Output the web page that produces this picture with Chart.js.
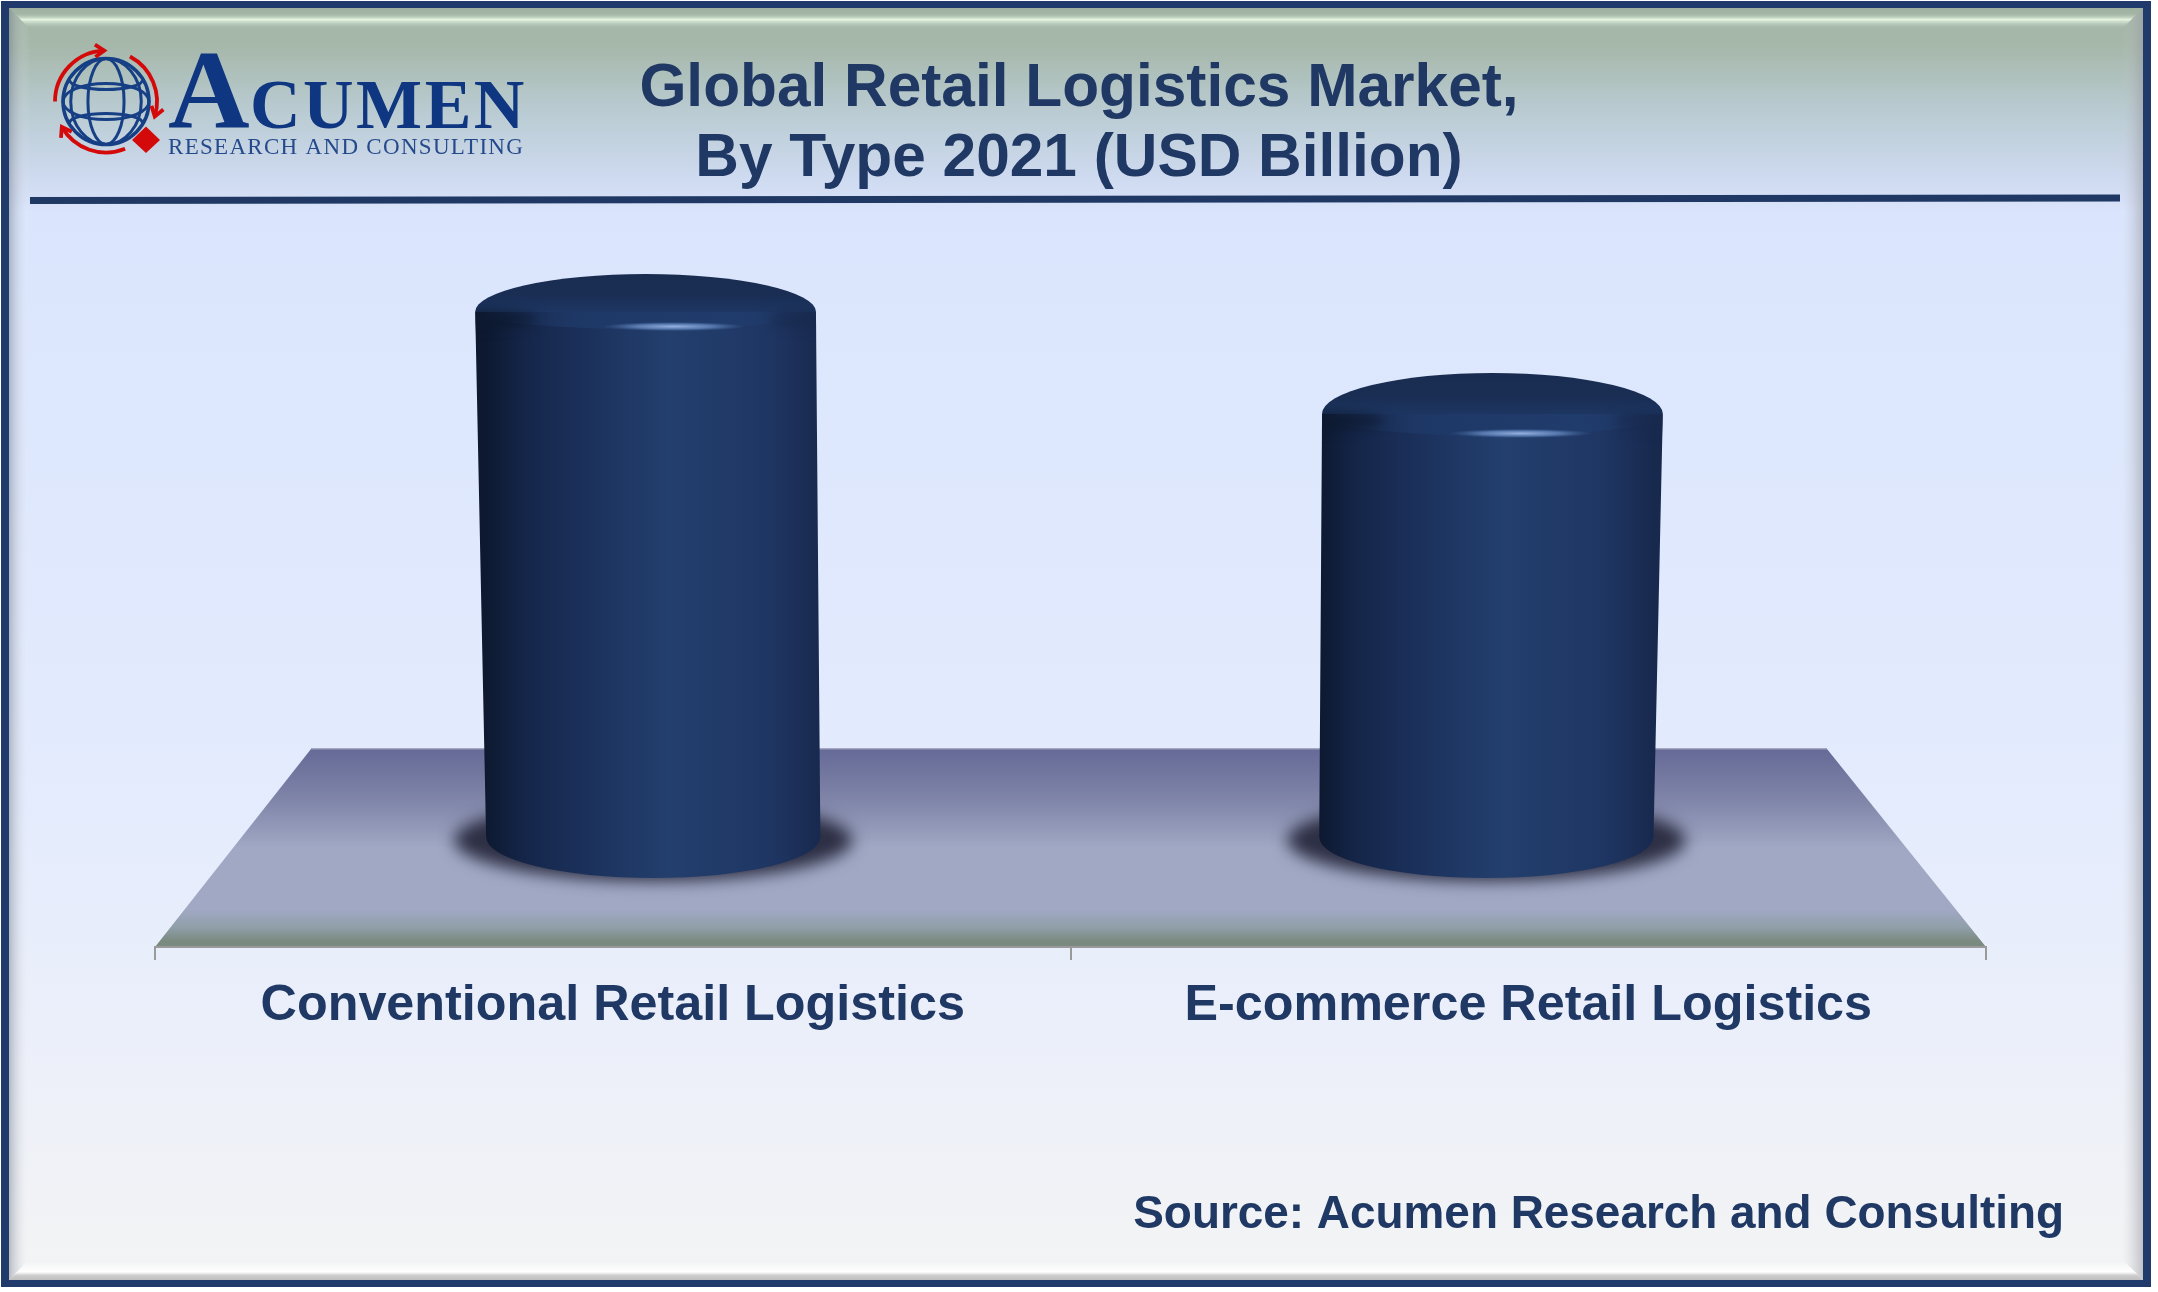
<!DOCTYPE html>
<html>
<head>
<meta charset="utf-8">
<title>Global Retail Logistics Market</title>
<style>
    html, body { margin: 0; padding: 0; background: #ffffff; }
    canvas { display: block; }
</style>
<script src="https://cdn.jsdelivr.net/npm/chart.js@4"></script>
</head>
<body>
<canvas id="marketChart" width="2158" height="1292"></canvas>
<script>
const categories = ['Conventional Retail Logistics', 'E-commerce Retail Logistics'];
const marketValues = [60.4, 50.5];
const titleLines = ['Global Retail Logistics Market,', 'By Type 2021 (USD Billion)'];
const sourceText = 'Source: Acumen Research and Consulting';

const NAVY = '#1f3864';
const SANS = '"Liberation Sans", Arial, sans-serif';
const SERIF = '"Liberation Serif", "Times New Roman", serif';

function drawFrame(ctx) {
    ctx.fillStyle = '#ffffff';
    ctx.fillRect(0, 0, 2158, 1292);

    // navy outer frame
    ctx.fillStyle = '#1f3a6b';
    ctx.fillRect(1, 1, 2150, 1286);

    // page gradient
    const bg = ctx.createLinearGradient(0, 8, 0, 1280);
    bg.addColorStop(0, '#a3b5a5');
    bg.addColorStop(0.03, '#a6b8aa');
    bg.addColorStop(0.08, '#b9cbd1');
    bg.addColorStop(0.13, '#cdd9ee');
    bg.addColorStop(0.15, '#d5e0f6');
    bg.addColorStop(0.16, '#dae5fd');
    bg.addColorStop(0.6, '#e3ebfd');
    bg.addColorStop(0.8, '#ebeffa');
    bg.addColorStop(1, '#f3f4f4');
    ctx.fillStyle = bg;
    ctx.fillRect(9, 8, 2134, 1272);

    // bevel, top band
    const top = ctx.createLinearGradient(0, 8, 0, 29);
    top.addColorStop(0, 'rgba(150,170,150,0.4)');
    top.addColorStop(0.25, 'rgba(160,180,160,0.2)');
    top.addColorStop(0.55, 'rgba(232,248,228,0.95)');
    top.addColorStop(1, 'rgba(170,190,175,0)');
    ctx.fillStyle = top;
    bevel(ctx, [[9, 8], [2143, 8], [2122, 29], [30, 29]]);

    // bevel, left band
    const left = ctx.createLinearGradient(9, 0, 30, 0);
    left.addColorStop(0, 'rgba(110,120,135,0.45)');
    left.addColorStop(1, 'rgba(255,255,255,0)');
    ctx.fillStyle = left;
    bevel(ctx, [[9, 8], [30, 29], [30, 1259], [9, 1280]]);

    // bevel, right band
    const right = ctx.createLinearGradient(2122, 0, 2143, 0);
    right.addColorStop(0, 'rgba(200,200,205,0)');
    right.addColorStop(1, 'rgba(150,152,160,0.55)');
    ctx.fillStyle = right;
    bevel(ctx, [[2143, 8], [2143, 1280], [2122, 1259], [2122, 29]]);

    // bevel, bottom band
    const bottom = ctx.createLinearGradient(0, 1262, 0, 1280);
    bottom.addColorStop(0, 'rgba(255,255,255,0)');
    bottom.addColorStop(0.55, 'rgba(255,255,255,1)');
    bottom.addColorStop(0.75, 'rgba(205,205,205,1)');
    bottom.addColorStop(1, 'rgba(190,190,190,1)');
    ctx.fillStyle = bottom;
    bevel(ctx, [[9, 1280], [27, 1262], [2125, 1262], [2143, 1280]]);

    // header rule, a touch off level like the original
    ctx.strokeStyle = NAVY;
    ctx.lineWidth = 7;
    ctx.beginPath();
    ctx.moveTo(30, 200.5);
    ctx.lineTo(2120, 198);
    ctx.stroke();
}

function bevel(ctx, pts) {
    ctx.beginPath();
    pts.forEach((p, i) => i ? ctx.lineTo(p[0], p[1]) : ctx.moveTo(p[0], p[1]));
    ctx.closePath();
    ctx.fill();
}

function drawLogo(ctx) {
    const cx = 106, cy = 101.5, r = 43;

    ctx.save();
    ctx.strokeStyle = '#163f85';
    ctx.lineWidth = 3.5;
    ctx.beginPath();
    ctx.arc(cx, cy, r, 0, Math.PI * 2);
    ctx.stroke();
    ctx.lineWidth = 3;
    [0.42, 0.82].forEach(k => {
        ctx.beginPath();
        ctx.ellipse(cx, cy, r * k, r, 0, 0, Math.PI * 2);
        ctx.stroke();
    });
    ctx.beginPath();
    ctx.ellipse(cx, cy, r, r * 0.42, 0, 0, Math.PI * 2);
    ctx.stroke();
    ctx.beginPath();
    ctx.ellipse(cx, cy - r * 0.5, r * 0.85, r * 0.22, 0, Math.PI, 0, true);
    ctx.stroke();
    ctx.beginPath();
    ctx.ellipse(cx, cy + r * 0.5, r * 0.85, r * 0.22, 0, Math.PI, 0);
    ctx.stroke();

    // red arrows round the globe
    ctx.strokeStyle = '#d40a0a';
    ctx.lineWidth = 3.8;
    const rad = d => d * Math.PI / 180;
    [[180, 268], [-62, 17], [68, 150]].forEach(([a, b]) => {
        ctx.beginPath();
        ctx.arc(cx, cy, 51, rad(a), rad(b));
        ctx.stroke();
    });
    [268, 17, 150].forEach(a => {
        const x = cx + 51 * Math.cos(rad(a));
        const y = cy + 51 * Math.sin(rad(a));
        const t = rad(a + 90);
        ctx.beginPath();
        ctx.moveTo(x - 11 * Math.cos(t - 0.6), y - 11 * Math.sin(t - 0.6));
        ctx.lineTo(x, y);
        ctx.lineTo(x - 11 * Math.cos(t + 0.6), y - 11 * Math.sin(t + 0.6));
        ctx.stroke();
    });

    ctx.fillStyle = '#d40a0a';
    bevel(ctx, [[146, 126.5], [160, 140], [146, 153], [132, 140]]);

    // wordmark
    ctx.fillStyle = '#0f3680';
    ctx.textBaseline = 'alphabetic';
    ctx.textAlign = 'left';
    ctx.font = 'bold 113px ' + SERIF;
    ctx.fillText('A', 168, 128);
    ctx.font = 'bold 70px ' + SERIF;
    ctx.letterSpacing = '2.5px';
    ctx.fillText('CUMEN', 250, 128);
    ctx.font = '23px ' + SERIF;
    ctx.letterSpacing = '1.3px';
    ctx.fillStyle = '#254a8c';
    ctx.fillText('RESEARCH AND CONSULTING', 168, 154);
    ctx.restore();
}

// floor the cylinders stand on, trapezoid up from the category axis
function drawFloor(ctx, area) {
    const top = area.bottom - 198;
    const grad = ctx.createLinearGradient(0, top, 0, area.bottom);
    grad.addColorStop(0, '#666a97');
    grad.addColorStop(0.25, '#7f84a8');
    grad.addColorStop(0.5, '#a0a8c4');
    grad.addColorStop(0.81, '#a0a8c4');
    grad.addColorStop(0.9, '#909fa9');
    grad.addColorStop(0.97, '#7b8a80');
    grad.addColorStop(1, '#7b8a80');
    ctx.fillStyle = grad;
    bevel(ctx, [[area.left + 156, top], [area.right - 159, top], [area.right, area.bottom], [area.left, area.bottom]]);
    ctx.strokeStyle = '#8e90b0';
    ctx.lineWidth = 1.5;
    ctx.beginPath();
    ctx.moveTo(area.left + 156, top);
    ctx.lineTo(area.right - 159, top);
    ctx.stroke();
}

function bodyStops(grad) {
    grad.addColorStop(0, '#0d1930');
    grad.addColorStop(0.12, '#15264a');
    grad.addColorStop(0.35, '#1d3460');
    grad.addColorStop(0.55, '#233f6d');
    grad.addColorStop(0.85, '#1f3663');
    grad.addColorStop(1, '#18294e');
}

function drawCylinder(ctx, bar, vanishX) {
    const baseX = vanishX + (bar.x - vanishX) * 0.91 - 0.7;
    const topX = vanishX + (bar.x - vanishX) * 0.925 - 1.5;
    const baseHalf = bar.width * 0.91 / 2 + 0.5;
    const topHalf = bar.width * 0.925 / 2 + 1;
    const baseRy = 41;
    const baseCy = bar.base - baseRy;
    // the lower cap shows a little more of its face
    const rearRy = 38 + (bar.y - 274) * 0.03;
    const lipRy = 17 + (bar.y - 274) * 0.05;
    const topCy = bar.y + rearRy;

    // soft contact shadow
    ctx.save();
    ctx.filter = 'blur(8px)';
    ctx.fillStyle = '#2d2f44';
    ctx.beginPath();
    ctx.ellipse(baseX, baseCy + 3, baseHalf + 32, 41, 0, 0, Math.PI * 2);
    ctx.fill();
    ctx.restore();

    // body
    const body = ctx.createLinearGradient(baseX - baseHalf, 0, baseX + baseHalf, 0);
    bodyStops(body);
    ctx.fillStyle = body;
    ctx.beginPath();
    ctx.moveTo(topX - topHalf, topCy);
    ctx.lineTo(baseX - baseHalf, baseCy);
    ctx.ellipse(baseX, baseCy, baseHalf, baseRy, 0, Math.PI, 0, true);
    ctx.lineTo(topX + topHalf, topCy);
    ctx.closePath();
    ctx.fill();

    // cap: rear dome
    const cap = ctx.createLinearGradient(0, bar.y, 0, topCy + lipRy);
    cap.addColorStop(0, '#192c50');
    cap.addColorStop(0.38, '#1a2e54');
    cap.addColorStop(0.7, '#1d3763');
    cap.addColorStop(1, '#203c6c');
    ctx.fillStyle = cap;
    ctx.beginPath();
    ctx.ellipse(topX, topCy, topHalf, rearRy, 0, Math.PI, 0);
    ctx.closePath();
    ctx.fill();

    // front lip fades sideways into the body shading
    const lip = ctx.createLinearGradient(topX - topHalf, 0, topX + topHalf, 0);
    lip.addColorStop(0, 'rgba(27,48,88,0)');
    lip.addColorStop(0.3, 'rgba(30,56,102,1)');
    lip.addColorStop(0.75, 'rgba(32,60,108,1)');
    lip.addColorStop(1, 'rgba(32,60,108,0)');
    ctx.fillStyle = lip;
    ctx.beginPath();
    ctx.ellipse(topX, topCy, topHalf, lipRy, 0, 0, Math.PI);
    ctx.closePath();
    ctx.fill();

    // blur the seam at both shoulders, kept inside the silhouette
    ctx.save();
    ctx.beginPath();
    ctx.ellipse(topX, topCy, topHalf, rearRy, 0, Math.PI, 0);
    ctx.lineTo(baseX + baseHalf, baseCy);
    ctx.lineTo(baseX - baseHalf, baseCy);
    ctx.closePath();
    ctx.clip();
    ctx.filter = 'blur(6px)';
    ctx.fillStyle = 'rgba(13,25,48,0.8)';
    ctx.beginPath();
    ctx.ellipse(topX - topHalf, topCy + 7, 62, 9, 0, 0, Math.PI * 2);
    ctx.fill();
    ctx.fillStyle = 'rgba(24,41,78,0.8)';
    ctx.beginPath();
    ctx.ellipse(topX + topHalf, topCy + 7, 48, 9, 0, 0, Math.PI * 2);
    ctx.fill();
    ctx.restore();

    // specular streak on the lip
    ctx.save();
    ctx.translate(topX + 28, topCy + lipRy - 2.5);
    ctx.scale(1, 0.065);
    const glow = ctx.createRadialGradient(0, 0, 0, 0, 0, 72);
    glow.addColorStop(0, 'rgba(150,178,225,1)');
    glow.addColorStop(0.55, 'rgba(105,140,195,0.75)');
    glow.addColorStop(1, 'rgba(70,105,160,0)');
    ctx.fillStyle = glow;
    ctx.beginPath();
    ctx.arc(0, 0, 72, 0, Math.PI * 2);
    ctx.fill();
    ctx.restore();
}

const cylinderPlugin = {
    id: 'cylinderPlugin',
    afterLayout(chart) {
        // title sits a little right of the plot centre
        if (!chart.titleBlock.shifted) {
            chart.titleBlock.left += 17;
            chart.titleBlock.shifted = true;
        }
    },
    beforeDraw(chart) {
        drawFrame(chart.ctx);
        drawLogo(chart.ctx);
        drawFloor(chart.ctx, chart.chartArea);
    },
    beforeDatasetsDraw(chart) {
        const area = chart.chartArea;
        const vanishX = (area.left + area.right) / 2;
        chart.getDatasetMeta(0).data.forEach(bar => drawCylinder(chart.ctx, bar, vanishX));
        return false;
    },
    afterDraw(chart) {
        const ctx = chart.ctx;
        ctx.save();
        ctx.fillStyle = NAVY;
        ctx.font = 'bold 45.9px ' + SANS;
        ctx.textAlign = 'right';
        ctx.textBaseline = 'middle';
        ctx.fillText(sourceText, 2064, 1215);
        ctx.restore();
    }
};

document.addEventListener('DOMContentLoaded', () => {
    new Chart(document.getElementById('marketChart'), {
        type: 'bar',
        data: {
            labels: categories,
            datasets: [{
                label: 'USD Billion',
                data: marketValues,
                backgroundColor: NAVY,
                categoryPercentage: 1,
                barPercentage: 0.4
            }]
        },
        options: {
            responsive: false,
            animation: false,
            layout: { padding: { left: 155, right: 172, top: 0, bottom: 0 } },
            plugins: {
                legend: { display: false },
                tooltip: { enabled: false },
                title: {
                    display: true,
                    text: titleLines,
                    color: NAVY,
                    font: { family: SANS, size: 60.4, weight: 'bold', lineHeight: 70 / 60.4 },
                    padding: { top: 54, bottom: 34 }
                }
            },
            scales: {
                x: {
                    afterFit: scale => { scale.height = 345; },
                    border: { color: '#9a9a9a', width: 2 },
                    grid: { display: true, drawOnChartArea: false, drawTicks: true, tickLength: 13, color: '#9a9a9a', lineWidth: 2 },
                    ticks: {
                        color: NAVY,
                        padding: 16,
                        maxRotation: 0,
                        font: { family: SANS, size: 50.3, weight: 'bold' }
                    }
                },
                y: {
                    display: false,
                    min: -6.9,
                    max: 65
                }
            }
        },
        plugins: [cylinderPlugin]
    });
});
</script>
</body>
</html>
